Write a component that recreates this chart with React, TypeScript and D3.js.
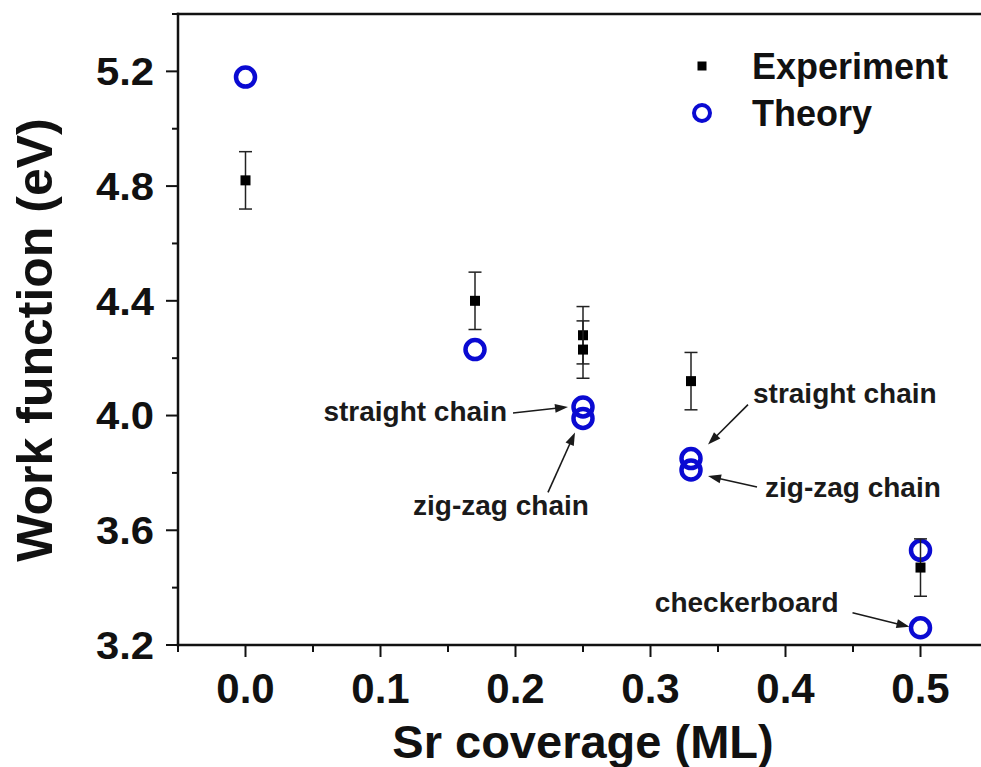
import React from "react";
import * as d3 from "d3";

// Experimental work function with error bars
const expX = [0, 0.17, 0.25, 0.25, 0.33, 0.5];
const expY = [4.82, 4.4, 4.28, 4.23, 4.12, 3.47];
const expErr = [0.1, 0.1, 0.1, 0.1, 0.1, 0.1];

// Calculated work function
const theoryX = [0, 0.17, 0.25, 0.25, 0.33, 0.33, 0.5, 0.5];
const theoryY = [5.18, 4.23, 4.03, 3.99, 3.85, 3.81, 3.53, 3.26];

const xMajorTicks = [0, 0.1, 0.2, 0.3, 0.4, 0.5];
const xMinorTicks = [-0.05, 0.05, 0.15, 0.25, 0.35, 0.45, 0.55];
const yMajorTicks = [3.2, 3.6, 4.0, 4.4, 4.8, 5.2];
const yMinorTicks = [3.4, 3.8, 4.2, 4.6, 5.0, 5.4];

const seriesNames = ["Experiment", "Theory"];

// Structure labels, each pointing at one theory point (index into theory arrays)
const annotationLabels = ["straight chain", "zig-zag chain", "straight chain", "zig-zag chain", "checkerboard"];
const annotationTargets = [2, 3, 4, 5, 7];

const W = 981;
const H = 767;
const FONT = "'Liberation Sans', Arial, Helvetica, sans-serif";
const BLUE = "#0a0ad2";

// label / arrow placement relative to the target point, in px
const annotationLayout = [
  { tx: -76, ty: 14, anchor: "end", ax: -70, ay: 6, hx: -15, hy: 0 },
  { tx: -82, ty: 97, anchor: "middle", ax: -35, ay: 74, hx: -8, hy: 14 },
  { tx: 62, ty: -56, anchor: "start", ax: 57, ay: -54, hx: 17, hy: -14 },
  { tx: 74, ty: 27, anchor: "start", ax: 66, ay: 17, hx: 17, hy: 6 },
  { tx: -82, ty: -16, anchor: "end", ax: -68, ay: -15, hx: -11, hy: -1 },
];

export default function App() {
  const x = d3.scaleLinear().domain([-0.05, 0.55]).range([178, 988]);
  const y = d3.scaleLinear().domain([3.2, 5.4]).range([645, 14]);

  const fmt = d3.format(".1f");
  const x0 = x(-0.05);
  const y0 = y(3.2);
  const yTop = y(5.4);

  const arrowPath = (x1: number, y1: number, x2: number, y2: number) => {
    const ang = Math.atan2(y2 - y1, x2 - x1);
    const len = 13;
    const half = 4.5;
    const bx = x2 - len * Math.cos(ang);
    const by = y2 - len * Math.sin(ang);
    const px = -Math.sin(ang) * half;
    const py = Math.cos(ang) * half;
    return {
      line: [x1, y1, bx + 3 * Math.cos(ang), by + 3 * Math.sin(ang)],
      head: `M${x2},${y2}L${bx + px},${by + py}L${bx - px},${by - py}Z`,
    };
  };

  return (
    <svg
      width={W}
      height={H}
      viewBox={`0 0 ${W} ${H}`}
      style={{ position: "absolute", left: 0, top: 0, background: "#fff" }}
      fontFamily={FONT}
    >
      <rect x={0} y={0} width={W} height={H} fill="#fff" />

      {/* axes frame */}
      <g stroke="#111" strokeLinecap="square">
        <line x1={x0} y1={yTop} x2={x0} y2={y0} strokeWidth={2.5} />
        <line x1={x0} y1={y0} x2={x(0.55)} y2={y0} strokeWidth={2.5} />
        <line x1={x0} y1={yTop} x2={x(0.55)} y2={yTop} strokeWidth={2.5} />
      </g>

      {/* ticks */}
      <g stroke="#111" strokeWidth={2}>
        {xMajorTicks.map((t) => (
          <line key={"xM" + t} x1={x(t)} x2={x(t)} y1={y0} y2={y0 + 12} />
        ))}
        {xMinorTicks.map((t) => (
          <line key={"xm" + t} x1={x(t)} x2={x(t)} y1={y0} y2={y0 + 7} />
        ))}
        {yMajorTicks.map((t) => (
          <line key={"yM" + t} x1={x0 - 12} x2={x0} y1={y(t)} y2={y(t)} />
        ))}
        {yMinorTicks.map((t) => (
          <line key={"ym" + t} x1={x0 - 6} x2={x0} y1={y(t)} y2={y(t)} />
        ))}
      </g>

      {/* tick labels */}
      <g fontSize={42} fontWeight="bold" fill="#111">
        {xMajorTicks.map((t) => (
          <text key={"xl" + t} x={x(t)} y={703} textAnchor="middle">
            {fmt(t)}
          </text>
        ))}
      </g>
      <g fontSize={38} fontWeight="bold" fill="#111">
        {yMajorTicks.map((t) => (
          <text
            key={"yl" + t}
            transform={`translate(154, ${y(t)}) scale(1.1, 1)`}
            dy="0.36em"
            textAnchor="end"
          >
            {fmt(t)}
          </text>
        ))}
      </g>

      {/* axis titles */}
      <text x={x(0.25)} y={758} textAnchor="middle" fontSize={47} fontWeight="bold" fill="#111">
        Sr coverage (ML)
      </text>
      <text
        transform={`translate(52, 340) rotate(-90)`}
        textAnchor="middle"
        fontSize={50}
        fontWeight="bold"
        fill="#111"
      >
        Work function (eV)
      </text>

      {/* theory points */}
      <g fill="none" stroke={BLUE} strokeWidth={4.5}>
        {theoryX.map((v, i) => (
          <circle key={"t" + i} cx={x(v)} cy={y(theoryY[i])} r={9.5} />
        ))}
      </g>

      {/* experiment points with error bars */}
      <g>
        {expX.map((v, i) => {
          const cx = x(v);
          const cy = y(expY[i]);
          const hi = y(expY[i] + expErr[i]);
          const lo = y(expY[i] - expErr[i]);
          return (
            <g key={"e" + i}>
              <g stroke="#222" strokeWidth={1.5}>
                <line x1={cx} x2={cx} y1={hi} y2={lo} />
                <line x1={cx - 6.5} x2={cx + 6.5} y1={hi} y2={hi} />
                <line x1={cx - 6.5} x2={cx + 6.5} y1={lo} y2={lo} />
              </g>
              <rect x={cx - 5} y={cy - 5} width={10} height={10} fill="#000" />
            </g>
          );
        })}
      </g>

      {/* structure annotations */}
      <g fontSize={28} fontWeight="bold" fill="#1a1a1a">
        {annotationLabels.map((label, i) => {
          const k = annotationTargets[i];
          const px = x(theoryX[k]);
          const py = y(theoryY[k]);
          const L = annotationLayout[i];
          const a = arrowPath(px + L.ax, py + L.ay, px + L.hx, py + L.hy);
          return (
            <g key={"a" + i}>
              <text x={px + L.tx} y={py + L.ty} textAnchor={L.anchor as any}>
                {label}
              </text>
              <line
                x1={a.line[0]}
                y1={a.line[1]}
                x2={a.line[2]}
                y2={a.line[3]}
                stroke="#1a1a1a"
                strokeWidth={1.6}
              />
              <path d={a.head} fill="#1a1a1a" />
            </g>
          );
        })}
      </g>

      {/* legend */}
      <g fontSize={36} fontWeight="bold" fill="#111">
        <rect x={697.5} y={61.5} width={9} height={9} fill="#000" />
        <text x={752} y={79}>{seriesNames[0]}</text>
        <circle cx={702} cy={113} r={8} fill="none" stroke={BLUE} strokeWidth={4} />
        <text x={752} y={126}>{seriesNames[1]}</text>
      </g>
    </svg>
  );
}
